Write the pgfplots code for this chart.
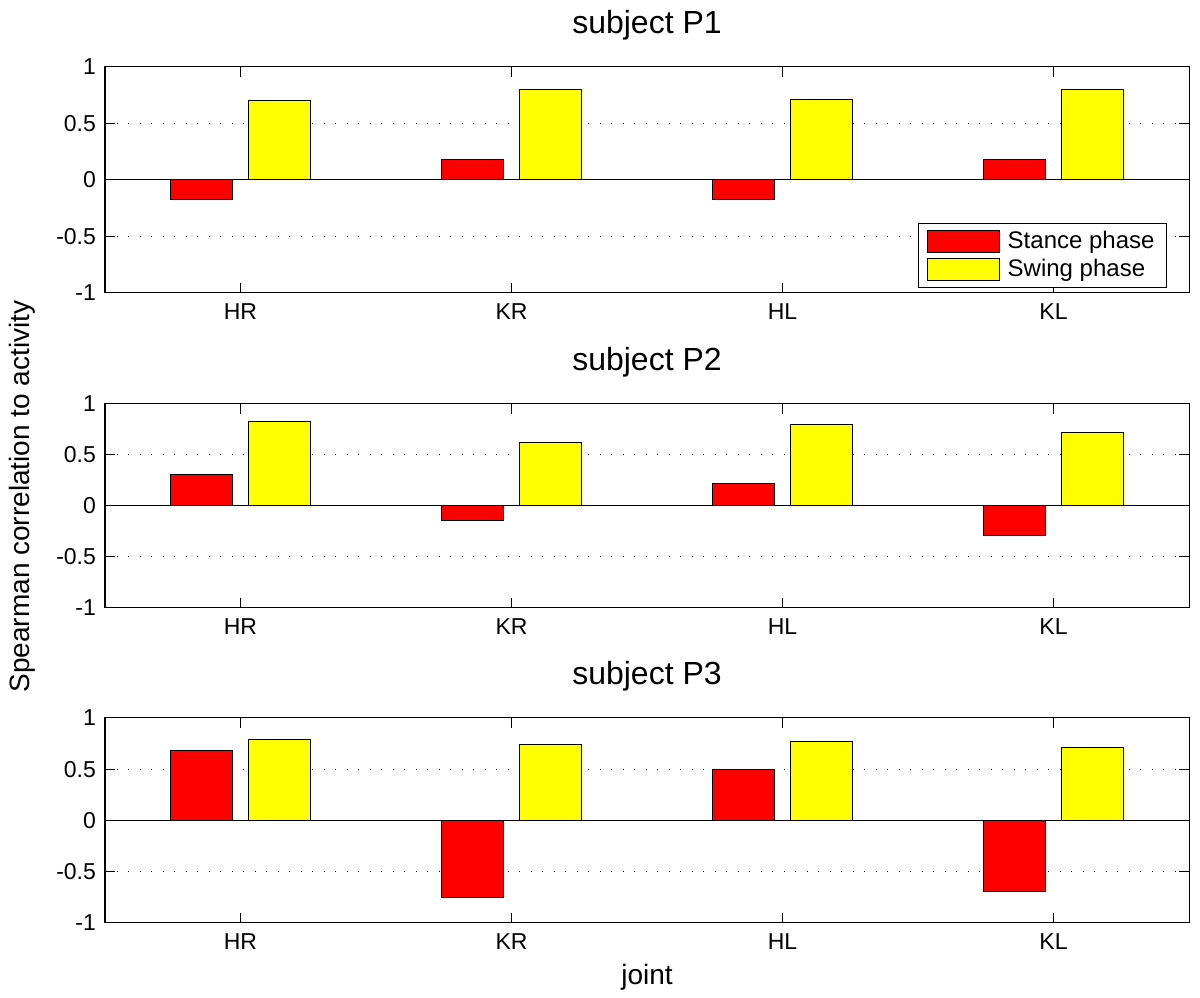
\documentclass[border=0pt]{standalone}
\usepackage{fontspec}
\setmainfont{Liberation Sans}
\usepackage{pgfplots}
\pgfplotsset{compat=1.18}
\definecolor{myred}{RGB}{255,0,0}
\definecolor{myyellow}{RGB}{255,255,0}
\pgfplotsset{
  mylegimg/.style={legend image code/.code={\draw[##1] (0pt,-5.5pt) rectangle (36pt,5.5pt); \path (38pt,0pt);}},
  subj/.style={
    scale only axis, width=542pt,
    xmin=0.5, xmax=4.5, ymin=-1, ymax=1,
    xtick={1,2,3,4}, xticklabels={HR,KR,HL,KL},
    ytick={-1,-0.5,0,0.5,1}, yticklabels={-1,-0.5,0,0.5,1},
    tick pos=both, xticklabel pos=lower, yticklabel pos=left,
    tick align=inside, major tick length=5pt,
    /pgf/number format/assume math mode=true,
    ticklabel style={font=\fontsize{11.5}{13}\selectfont},
    xticklabel style={yshift=-2pt},
    yticklabel style={xshift=-1pt},
    axis line style={black, line width=0.5pt},
    every tick/.style={black, line width=0.5pt},
    ymajorgrids,
    major grid style={black, line width=0.5pt, dash pattern=on 0.6pt off 5.15pt},
    extra y ticks={0}, extra y tick labels={},
    extra y tick style={major grid style={solid, black, line width=0.5pt}},
    title style={at={(0.5,1)}, anchor=base, yshift=10.7pt, font=\fontsize{16}{19}\selectfont},
  },
  redbar/.style={ybar, bar width=0.23, bar shift=-0.143, fill=myred, draw=black, line width=0.5pt, mylegimg},
  yelbar/.style={ybar, bar width=0.23, bar shift=0.143, fill=myyellow, draw=black, line width=0.5pt, mylegimg},
}
\begin{document}
\begin{tikzpicture}
\path[use as bounding box] (0,0) rectangle (600pt,498.5pt);

\begin{axis}[subj, at={(52.5pt,352pt)}, anchor=south west, height=113pt,
  title={subject P1},
  legend style={at={(0.9797,0.0208)}, anchor=south east, draw=black, line width=0.5pt,
    font=\fontsize{12}{14}\selectfont, inner xsep=4pt, inner ysep=2pt},
  legend cell align=left]
\addplot[redbar] coordinates {(1,-0.177) (2,0.177) (3,-0.177) (4,0.183)};
\addplot[yelbar] coordinates {(1,0.702) (2,0.80) (3,0.708) (4,0.80)};
\legend{Stance phase, Swing phase}
\end{axis}

\begin{axis}[subj, at={(52.5pt,194.5pt)}, anchor=south west, height=102pt,
  title={subject P2}]
\addplot[redbar] coordinates {(1,0.31) (2,-0.14) (3,0.22) (4,-0.294)};
\addplot[yelbar] coordinates {(1,0.83) (2,0.627) (3,0.798) (4,0.72)};
\end{axis}

\begin{axis}[subj, at={(52.5pt,37pt)}, anchor=south west, height=102.5pt,
  title={subject P3},
  xlabel={joint},
  xlabel style={at={(axis description cs:0.5,-0.302)}, anchor=base, font=\fontsize{14}{17}\selectfont}]
\addplot[redbar] coordinates {(1,0.68) (2,-0.755) (3,0.50) (4,-0.69)};
\addplot[yelbar] coordinates {(1,0.79) (2,0.745) (3,0.767) (4,0.715)};
\end{axis}

\node[rotate=90, font=\fontsize{14}{17}\selectfont] at (11pt,250.25pt) {Spearman correlation to activity};
\end{tikzpicture}
\end{document}
